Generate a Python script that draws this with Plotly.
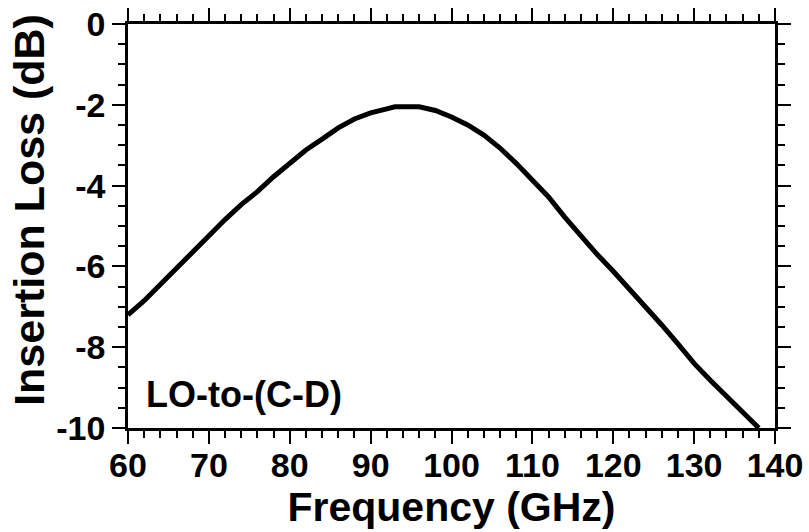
import plotly.graph_objects as go

freq = [60, 62, 64, 66, 68, 70, 72, 74, 76, 78, 80, 82, 84, 86, 88, 90, 92, 93,
        96, 98, 100, 102, 104, 106, 108, 110, 112, 114, 116, 118, 120, 122, 124,
        126, 128, 130, 132, 134, 136, 138]
loss = [-7.2, -6.85, -6.45, -6.05, -5.65, -5.22, -4.84, -4.47, -4.15, -3.78,
        -3.45, -3.12, -2.85, -2.57, -2.35, -2.2, -2.1, -2.05,
        -2.05, -2.14, -2.3, -2.5, -2.75, -3.07, -3.45, -3.85, -4.28, -4.78,
        -5.25, -5.7, -6.12, -6.55, -7.0, -7.45, -7.92, -8.4, -8.82, -9.22,
        -9.6, -10.0]

x_ticks = [60, 70, 80, 90, 100, 110, 120, 130, 140]
y_ticks = [0, -2, -4, -6, -8, -10]
label = "LO-to-(C-D)"
x_title = "Frequency (GHz)"
y_title = "Insertion Loss (dB)"

FONT = "Liberation Sans, Arial, sans-serif"

fig = go.Figure()
fig.add_trace(go.Scatter(x=freq, y=loss, mode="lines",
                         line=dict(color="black", width=5), showlegend=False))

axis_common = dict(
    showline=True, linecolor="black", linewidth=2.5, mirror="allticks",
    ticks="outside", ticklen=13, tickwidth=2, tickcolor="black",
    showgrid=False, zeroline=False, automargin=False, ticklabeloverflow="allow",
    tickfont=dict(family=FONT, size=34, color="black", weight="bold"),
)

fig.update_xaxes(range=[60, 140], tickvals=x_ticks, ticktext=[str(v) for v in x_ticks],
                 ticklabelstandoff=-8,
                 minor=dict(dtick=2, ticks="outside", ticklen=7, tickwidth=2, tickcolor="black", showgrid=False),
                 title=dict(text=x_title, standoff=0,
                            font=dict(family=FONT, size=41, color="black", weight="bold")),
                 **axis_common)
fig.update_yaxes(range=[-10, 0], tickvals=y_ticks, ticktext=[str(v) for v in y_ticks],
                 ticklabelstandoff=0,
                 minor=dict(dtick=0.5, ticks="outside", ticklen=7, tickwidth=2, tickcolor="black", showgrid=False),
                 **axis_common)

fig.add_annotation(text=y_title, xref="paper", yref="paper", x=-0.153, y=0.54,
                   xanchor="center", yanchor="middle", textangle=-90, showarrow=False,
                   font=dict(family=FONT, size=43, color="black", weight="bold"))

fig.add_annotation(text=label, xref="paper", yref="paper", x=0.025, y=0.082,
                   xanchor="left", yanchor="middle", showarrow=False,
                   font=dict(family=FONT, size=36, color="black", weight="bold"))

fig.update_layout(width=809, height=532, margin=dict(l=128, r=34, t=24, b=104),
                  plot_bgcolor="white", paper_bgcolor="white")

fig.write_html("out.html", config={"displayModeBar": False},
               post_script="document.body.style.margin='0';document.body.style.overflow='hidden';")
